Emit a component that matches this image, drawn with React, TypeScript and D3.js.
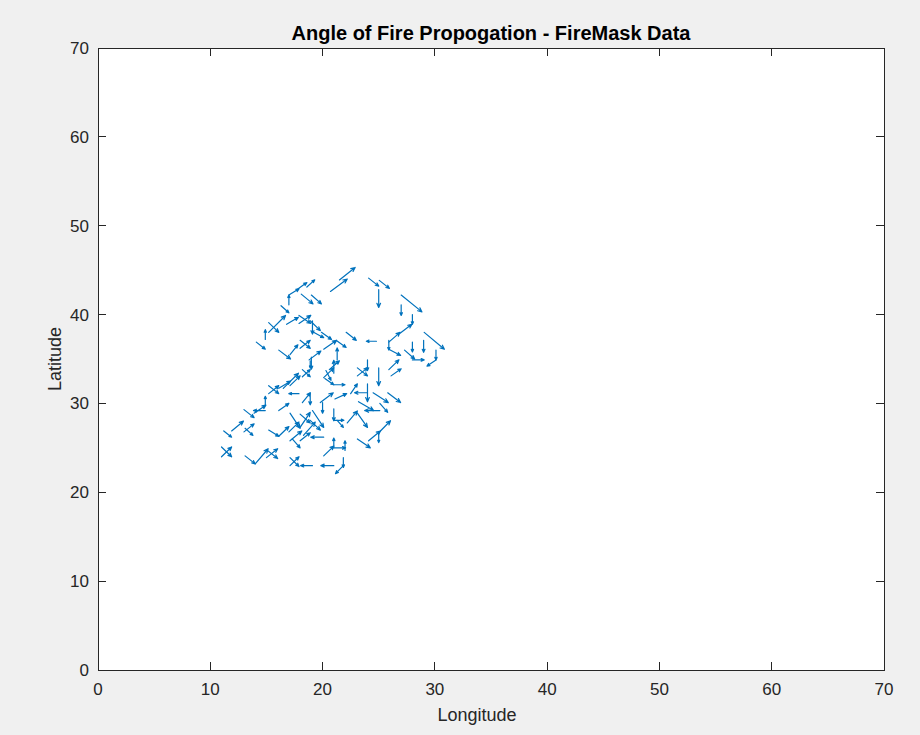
import React from "react";
import * as d3 from "d3";

// Quiver data: tail position (longitude, latitude) and spread vector (u, v)
const LON = [
  20.7, 21.5, 18.6, 17.7, 19.0, 18.1, 17.0, 17.0, 24.1, 25.05, 25.0, 27.0, 27.0,
  16.3, 15.2, 15.2, 14.9, 14.1, 16.1, 17.1, 16.8, 17.9, 17.9, 18.9, 19.1, 19.2,
  19.9, 22.1, 24.8, 18.0, 18.0, 20.1, 21.3, 21.2, 18.8, 19.0, 20.6, 24.0,
  28.0, 25.9, 26.9, 25.9, 25.9, 27.3, 28.0, 28.0, 29.0, 29.05, 30.1, 30.1, 25.9, 26.1,
  20.1, 21.0, 20.2, 21.0, 23.1, 23.1, 25.0, 22.5, 24.0, 24.0, 23.2, 24.5, 25.8, 25.1,
  25.1, 18.9, 19.8, 21.1, 20.0, 21.0, 21.0, 21.3, 22.2, 23.1, 18.0, 19.1, 18.0, 20.1,
  21.0, 21.0, 22.0, 20.1, 23.1, 24.1, 25.0, 25.0, 19.1, 21.0, 21.85, 21.85,
  16.5, 15.2, 15.2, 14.9, 13.9, 14.9, 17.9, 16.1, 13.0, 11.9, 13.0, 11.2, 13.1, 15.2,
  16.1, 17.0, 11.0, 11.0, 13.1, 14.0, 15.0, 15.0, 17.1, 17.1, 17.1, 18.0, 18.9, 17.1,
  17.3, 18.3, 18.2, 18.2, 18.9, 20.3, 17.1, 16.1, 18.2,
];
const LAT = [
  42.6, 43.9, 43.1, 42.8, 42.2, 42.3, 42.2, 41.1, 44.1, 43.85, 42.8, 42.2, 41.1,
  41.0, 38.0, 39.1, 37.2, 36.9, 36.0, 35.5, 38.9, 39.9, 39.0, 39.3, 39.3, 38.0,
  38.0, 38.0, 37.0, 36.2, 37.1, 36.1, 34.9, 37.1, 34.9, 35.2, 33.8, 34.9,
  40.0, 36.9, 37.9, 37.1, 36.1, 36.0, 34.9, 36.9, 37.1, 38.0, 36.0, 34.9, 33.8, 33.1,
  32.9, 33.4, 32.8, 32.1, 33.1, 34.0, 34.0, 31.1, 32.2, 31.2, 30.2, 31.2, 31.2, 29.2,
  30.0, 31.2, 30.1, 30.5, 30.1, 29.4, 28.1, 28.1, 27.8, 28.9, 27.3, 29.2, 25.8, 26.2,
  25.0, 25.0, 24.7, 24.1, 26.0, 25.8, 26.7, 26.6, 23.0, 23.0, 23.9, 23.0,
  31.7, 31.1, 32.0, 29.8, 28.9, 29.2, 31.1, 29.2, 29.3, 26.9, 26.8, 26.9, 27.2, 27.0,
  26.3, 26.8, 25.1, 24.0, 24.1, 23.2, 24.8, 23.9, 23.9, 23.0, 28.9, 28.8, 28.1, 25.8,
  26.0, 26.4, 33.8, 33.0, 34.8, 33.7, 32.0, 31.7, 30.1,
];
const U = [
  1.5, 1.4, 0.7, 0.9, 0.9, 1.05, 0.9, 0, 0.9, 0.9, 0, 1.85, 0,
  0.7, 1.5, 0.9, 0, 0.8, 1.05, 0.7, 1.05, 1.05, 1.05, 0.9, 0, 0.9,
  0.9, 0.9, -0.9, 0.9, 0.9, 1.15, 0, 0.9, 1.05, 0, 0.9, 0,
  0, 1.0, 1.05, 0, 1.05, 0.9, 1.05, 0, 0, 1.8, 0, -0.8, 0.9, 0.9,
  0.9, 0, 0.8, 1.0, 0.9, 0.9, 0, 0.6, 0, -1.15, 1.35, 1.35, 1.15, -1.35,
  0.7, 0, 1.15, 1.05, 0, 0, 0.9, 0.55, 0.9, 0.9, 0.9, 1.0, 0.9, -1.15,
  0, 1.05, 0, 0.9, 1.15, 1.05, 1.05, 0, -1.05, -1.15, 0, -0.7,
  1.35, 0.9, 0.9, 0, 1.05, -1.05, -0.9, 0.9, 0.9, 1.05, 0.9, 0.7, 0.7, 0.9,
  0.9, 0.9, 0.9, 0.9, 0.9, 1.15, 1.0, 1.0, 0.8, 0.8, 0.9, 0.9, 0.9, 1.05,
  0.7, 1.05, 0.7, 0.7, 0, 0.45, 0.9, 1.05, 0.7,
];
const V = [
  1.4, 1.4, 0.8, 0.8, -1.0, -1.1, 0.7, 1.1, -0.9, -0.9, -2.0, -1.9, -1.2,
  -0.8, 1.9, -1.1, 1.1, -0.8, -1.0, 1.1, 0.8, -0.9, 0.9, -1.1, -1.5, -0.6,
  -0.8, -0.9, 0, 0.9, -0.9, 1.0, 1.35, -0.8, 1.0, -1.35, 1.0, -1.2,
  -1.1, 1.1, 1.0, -1.1, -0.7, -1.0, 0, -1.1, -1.35, -1.9, -1.1, -0.7, 1.1, 0.8,
  1.1, 1.45, -0.7, 0, 0.9, -0.9, -2.0, 1.1, -2.0, 0, -1.0, -1.1, -1.1, 0,
  -1.0, -1.35, 1.1, 0.6, -1.2, -1.35, 0, -0.8, 1.35, -1.6, 1.7, -1.9, 0.9, 0,
  1.1, 0, 1.1, 1.1, -1.0, 1.1, 1.35, -1.0, 0, 0, -1.1, -0.9,
  1.7, 0.9, -0.9, 1.0, 0.9, 0, 0, 0.8, -0.9, 1.1, 0.9, -0.7, -0.8, -0.7,
  1.1, 1.1, -1.1, 1.1, -0.9, 1.7, -1.0, 1.0, -1.0, 1.0, -1.7, -1.0, -1.1, 1.1,
  -1.0, 1.5, -0.8, 0.8, -0.8, -1.1, 1.1, 0.8, 1.1,
];

const X_TICKS = [0, 10, 20, 30, 40, 50, 60, 70];
const Y_TICKS = [0, 10, 20, 30, 40, 50, 60, 70];

const TITLE = "Angle of Fire Propogation - FireMask Data";
const X_LABEL = "Longitude";
const Y_LABEL = "Latitude";

const W = 920;
const H = 735;
const PLOT = { left: 98, right: 884, top: 48, bottom: 670 };
const AXIS_COLOR = "#262626";
const ARROW_COLOR = "#0072bd";
const FONT = "'Liberation Sans', Arial, Helvetica, sans-serif";
const TICK_LEN = 8;

export default function App() {
  const xs = d3.scaleLinear().domain([0, 70]).range([PLOT.left, PLOT.right]);
  const ys = d3.scaleLinear().domain([0, 70]).range([PLOT.bottom, PLOT.top]);

  const arrows = LON.map((lon, i) => {
    const x1 = xs(lon);
    const y1 = ys(LAT[i]);
    const x2 = xs(lon + U[i]);
    const y2 = ys(LAT[i] + V[i]);
    const ang = Math.atan2(y2 - y1, x2 - x1);
    const len = Math.hypot(x2 - x1, y2 - y1);
    const h = Math.min(len * 0.28, 4.5);
    const spread = 0.42;
    const hx1 = x2 - h * Math.cos(ang - spread);
    const hy1 = y2 - h * Math.sin(ang - spread);
    const hx2 = x2 - h * Math.cos(ang + spread);
    const hy2 = y2 - h * Math.sin(ang + spread);
    const path = d3.path();
    path.moveTo(x1, y1);
    path.lineTo(x2, y2);
    path.moveTo(hx1, hy1);
    path.lineTo(x2, y2);
    path.lineTo(hx2, hy2);
    return path.toString();
  });

  return (
    <svg
      width={W}
      height={H}
      style={{ position: "absolute", left: 0, top: 0, display: "block" }}
      fontFamily={FONT}
    >
      <rect x={0} y={0} width={W} height={H} fill="#f0f0f0" />
      <rect
        x={PLOT.left}
        y={PLOT.top}
        width={PLOT.right - PLOT.left}
        height={PLOT.bottom - PLOT.top}
        fill="#ffffff"
      />

      <g>
        {arrows.map((d, i) => (
          <path
            key={i}
            d={d}
            fill="none"
            stroke={ARROW_COLOR}
            strokeWidth={1.2}
            strokeLinecap="round"
            strokeLinejoin="round"
          />
        ))}
      </g>

      {/* axis box with inward ticks on all four sides */}
      <g stroke={AXIS_COLOR} strokeWidth={1} fill="none" shapeRendering="crispEdges">
        <rect
          x={PLOT.left}
          y={PLOT.top}
          width={PLOT.right - PLOT.left}
          height={PLOT.bottom - PLOT.top}
        />
        {X_TICKS.map((t) => (
          <g key={"xt" + t}>
            <line x1={xs(t)} x2={xs(t)} y1={PLOT.bottom} y2={PLOT.bottom - TICK_LEN} />
            <line x1={xs(t)} x2={xs(t)} y1={PLOT.top} y2={PLOT.top + TICK_LEN} />
          </g>
        ))}
        {Y_TICKS.map((t) => (
          <g key={"yt" + t}>
            <line x1={PLOT.left} x2={PLOT.left + TICK_LEN} y1={ys(t)} y2={ys(t)} />
            <line x1={PLOT.right} x2={PLOT.right - TICK_LEN} y1={ys(t)} y2={ys(t)} />
          </g>
        ))}
      </g>

      <g fill={AXIS_COLOR} fontSize={17}>
        {X_TICKS.map((t) => (
          <text key={"xl" + t} x={xs(t)} y={PLOT.bottom + 25} textAnchor="middle">
            {t}
          </text>
        ))}
        {Y_TICKS.map((t) => (
          <text key={"yl" + t} x={PLOT.left - 9} y={ys(t) + 6} textAnchor="end">
            {t}
          </text>
        ))}
      </g>

      <text
        x={(PLOT.left + PLOT.right) / 2 - 14}
        y={721}
        textAnchor="middle"
        fontSize={18}
        fill={AXIS_COLOR}
      >
        {X_LABEL}
      </text>
      <text
        transform={`translate(61, ${(PLOT.top + PLOT.bottom) / 2}) rotate(-90)`}
        textAnchor="middle"
        fontSize={18}
        fill={AXIS_COLOR}
      >
        {Y_LABEL}
      </text>
      <text
        x={(PLOT.left + PLOT.right) / 2}
        y={40}
        textAnchor="middle"
        fontSize={20}
        fontWeight="bold"
        fill="#000000"
      >
        {TITLE}
      </text>
    </svg>
  );
}
